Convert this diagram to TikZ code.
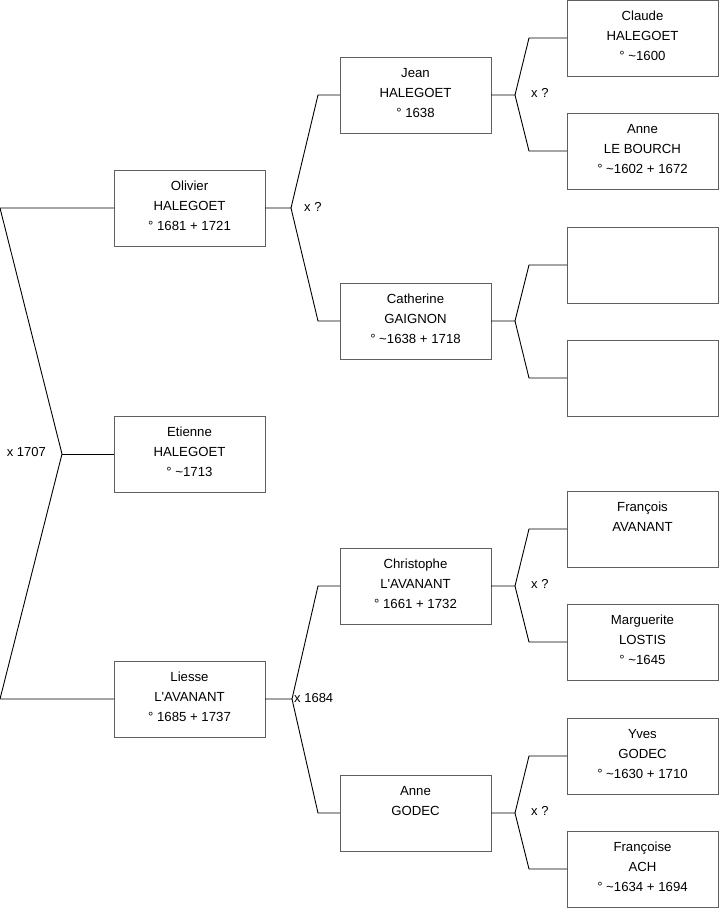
\documentclass[tikz,border=0pt]{standalone}
\usepackage{fontspec}
\setmainfont{Liberation Sans}
\definecolor{boxgray}{RGB}{95,95,95}
\newcommand\pbtext[1]{\parbox[c][76pt][t]{151pt}{\vspace*{6.5pt}\centering\fontsize{13.2}{20}\selectfont\strut #1}}
\begin{document}
\begin{tikzpicture}[x=1pt,y=-1pt,
  pbox/.style={draw=boxgray, line width=1pt, inner sep=0pt, outer sep=0pt, anchor=north west, minimum width=151pt, minimum height=76pt},
  link/.style={draw=black, line width=0.9pt},
  lbl/.style={inner sep=0pt, font=\fontsize{13}{15}\selectfont}]
\useasboundingbox (0,0) rectangle (719,908);
% generation 1
\node[pbox] (olivier) at (114,170) {\pbtext{Olivier\\HALEGOET\\° 1681 + 1721}};
\node[pbox] (etienne) at (114,416) {\pbtext{Etienne\\HALEGOET\\° \textasciitilde1713}};
\node[pbox] (liesse) at (114,661) {\pbtext{Liesse\\L\textquotesingle AVANANT\\° 1685 + 1737}};
% generation 2
\node[pbox] (jean) at (340,57) {\pbtext{Jean\\HALEGOET\\° 1638}};
\node[pbox] (catherine) at (340,283) {\pbtext{Catherine\\GAIGNON\\° \textasciitilde1638 + 1718}};
\node[pbox] (christophe) at (340,548) {\pbtext{Christophe\\L\textquotesingle AVANANT\\° 1661 + 1732}};
\node[pbox] (anneg) at (340,775) {\pbtext{Anne\\GODEC}};
% generation 3
\node[pbox] (claude) at (567,0) {\pbtext{Claude\\HALEGOET\\° \textasciitilde1600}};
\node[pbox] (annelb) at (567,113) {\pbtext{Anne\\LE BOURCH\\° \textasciitilde1602 + 1672}};
\node[pbox] (empa) at (567,227) {\pbtext{}};
\node[pbox] (empb) at (567,340) {\pbtext{}};
\node[pbox] (francois) at (567,491) {\pbtext{François\\AVANANT}};
\node[pbox] (marguerite) at (567,604) {\pbtext{Marguerite\\LOSTIS\\° \textasciitilde1645}};
\node[pbox] (yves) at (567,718) {\pbtext{Yves\\GODEC\\° \textasciitilde1630 + 1710}};
\node[pbox] (francoise) at (567,831) {\pbtext{Françoise\\ACH\\° \textasciitilde1634 + 1694}};
% root bracket
\coordinate (ra) at (0,208);
\coordinate (rj) at (62,454);
\coordinate (rb) at (0,699);
\draw[link] (olivier.west) -- (ra) -- (rj) -- (rb) -- (liesse.west);
\draw[link] (rj) -- (etienne.west);
\node[lbl, anchor=east] (rl) at (46,452) {x 1707};
% Olivier
\coordinate (oj) at (291,208);
\coordinate (oa) at (318,95);
\coordinate (ob) at (318,321);
\draw[link] (olivier.east) -- (oj) -- (oa) -- (jean.west);
\draw[link] (oj) -- (ob) -- (catherine.west);
\node[lbl, anchor=west] (ol) at (304,207) {x ?};
% Liesse
\coordinate (lj) at (292,699);
\coordinate (la) at (318,586);
\coordinate (lb) at (318,813);
\draw[link] (liesse.east) -- (lj) -- (la) -- (christophe.west);
\draw[link] (lj) -- (lb) -- (anneg.west);
\node[lbl, anchor=west] (ll) at (294,698) {x 1684};
% Jean
\coordinate (jj) at (515,95);
\coordinate (ja) at (529,38);
\coordinate (jb) at (529,151);
\draw[link] (jean.east) -- (jj) -- (ja) -- (claude.west);
\draw[link] (jj) -- (jb) -- (annelb.west);
\node[lbl, anchor=west] (jl) at (531,93) {x ?};
% Catherine
\coordinate (cj) at (515,321);
\coordinate (ca) at (529,265);
\coordinate (cb) at (529,378);
\draw[link] (catherine.east) -- (cj) -- (ca) -- (empa.west);
\draw[link] (cj) -- (cb) -- (empb.west);
% Christophe
\coordinate (hj) at (515,586);
\coordinate (ha) at (529,529);
\coordinate (hb) at (529,642);
\draw[link] (christophe.east) -- (hj) -- (ha) -- (francois.west);
\draw[link] (hj) -- (hb) -- (marguerite.west);
\node[lbl, anchor=west] (hl) at (531,584) {x ?};
% Anne Godec
\coordinate (gj) at (515,813);
\coordinate (ga) at (529,756);
\coordinate (gb) at (529,869);
\draw[link] (anneg.east) -- (gj) -- (ga) -- (yves.west);
\draw[link] (gj) -- (gb) -- (francoise.west);
\node[lbl, anchor=west] (gl) at (531,811) {x ?};
\end{tikzpicture}
\end{document}
